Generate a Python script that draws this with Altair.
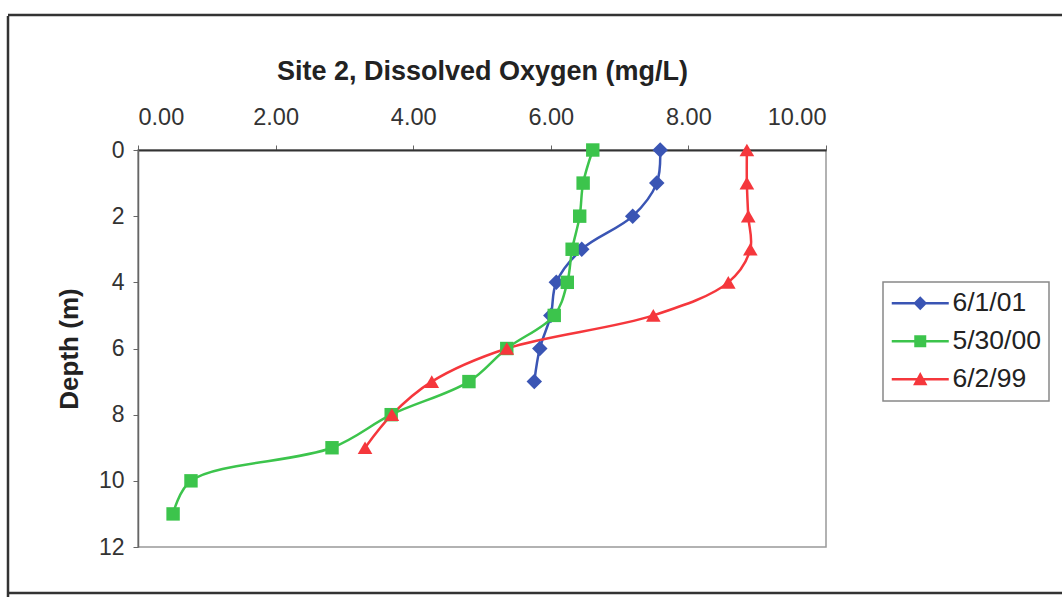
import altair as alt
import pandas as pd

# ---- data ----
series_names = ["6/1/01", "5/30/00", "6/2/99"]
colors = ["#3A55B4", "#3CC44C", "#F5373C"]

depth_601 = [0, 1, 2, 3, 4, 5, 6, 7]
do_601 = [7.59, 7.54, 7.19, 6.45, 6.08, 6.00, 5.84, 5.76]

depth_530 = [0, 1, 2, 3, 4, 5, 6, 7, 8, 9, 10, 11]
do_530 = [6.61, 6.47, 6.42, 6.31, 6.24, 6.05, 5.36, 4.81, 3.68, 2.82, 0.77, 0.51]

depth_602 = [0, 1, 2, 3, 4, 5, 6, 7, 8, 9]
do_602 = [8.85, 8.85, 8.87, 8.90, 8.58, 7.49, 5.36, 4.27, 3.69, 3.30]

x_ticks = [0, 2, 4, 6, 8, 10]
y_ticks = [0, 2, 4, 6, 8, 10, 12]

rows = []
for name, ds, vs in [(series_names[0], depth_601, do_601),
                     (series_names[1], depth_530, do_530),
                     (series_names[2], depth_602, do_602)]:
    for d, v in zip(ds, vs):
        rows.append({"series": name, "depth": d, "do": v})
df = pd.DataFrame(rows)

FONT = "Liberation Sans"

x_enc = alt.X(
    "do:Q",
    scale=alt.Scale(domain=[0, 10], nice=False, zero=False),
    axis=alt.Axis(orient="top", values=x_ticks, format=".2f",
                  title="Site 2, Dissolved Oxygen (mg/L)", titleFont=FONT,
                  titleFontSize=27, titleFontWeight="bold", titleColor="#222",
                  titlePadding=20,
                  grid=False, domainColor="#333", domainWidth=1.8,
                  tickColor="#666", tickSize=5, labelPadding=16,
                  labelFont=FONT, labelFontSize=23.5, labelColor="#333"),
)
y_enc = alt.Y(
    "depth:Q",
    scale=alt.Scale(domain=[0, 12], reverse=True, nice=False, zero=False),
    axis=alt.Axis(values=y_ticks, format="d", title="Depth (m)", grid=False,
                  domainColor="#666", domainWidth=1.5, tickColor="#666",
                  tickSize=5, labelPadding=9, labelFont=FONT,
                  labelFontSize=23, labelColor="#333", titleFont=FONT,
                  titleFontSize=26, titleFontWeight="bold", titleColor="#222",
                  titlePadding=16),
)
color_scale = alt.Scale(domain=series_names, range=colors)

# legend symbols: marker plus line segment (custom paths)
line_seg = "M-4.75,-0.2H4.75V0.2H-4.75Z"
legend_paths = [
    line_seg + "M0,-1.15L1.15,0L0,1.15L-1.15,0Z",
    line_seg + "M-1,-1H1V1H-1Z",
    line_seg + "M0,-1.2L1.2,1L-1.2,1Z",
]
legend_layer = alt.Chart(df).mark_point(filled=True, opacity=0).encode(
    x=x_enc, y=y_enc,
    color=alt.Color("series:N", scale=color_scale, legend=alt.Legend(title=None)),
    shape=alt.Shape("series:N", scale=alt.Scale(domain=series_names, range=legend_paths),
                    legend=alt.Legend(title=None)),
)

lines = alt.Chart(df).mark_line(interpolate="catmull-rom", strokeWidth=2.5).encode(
    x=x_enc, y=y_enc,
    color=alt.Color("series:N", scale=color_scale, legend=None),
    order=alt.Order("depth:Q"),
    detail="series:N",
)

shapes = ["diamond", "square", "triangle-up"]
sizes = [240, 180, 215]
point_layers = []
for name, shp, sz in zip(series_names, shapes, sizes):
    point_layers.append(
        alt.Chart(df).transform_filter(alt.datum.series == name)
        .mark_point(shape=shp, filled=True, size=sz, opacity=1)
        .encode(x=x_enc, y=y_enc,
                color=alt.Color("series:N", scale=color_scale, legend=None))
    )

frame_df = pd.DataFrame({"k": [0]})
frame_left = alt.Chart(frame_df).mark_rule(color="#333", strokeWidth=2.5).encode(
    x=alt.value(-130), y=alt.value(-134), y2=alt.value(460))
frame_top = alt.Chart(frame_df).mark_rule(color="#333", strokeWidth=2.5).encode(
    x=alt.value(-130), x2=alt.value(930), y=alt.value(-135))
frame_bottom = alt.Chart(frame_df).mark_rule(color="#333", strokeWidth=2.5).encode(
    x=alt.value(-130), x2=alt.value(930), y=alt.value(443))

chart = alt.layer(
    legend_layer, lines, *point_layers, frame_left, frame_top, frame_bottom
).properties(
    width=688, height=397,
    autosize=alt.AutoSizeParams(type="none"),
    padding={"left": 138, "top": 150, "right": 236, "bottom": 50},
    background="white",
).configure_view(
    stroke="#999", strokeWidth=1.5
).configure_legend(
    orient="none", legendX=745, legendY=132, padding=8,
    strokeColor="#888", strokeWidth=1.5, fillColor="white",
    labelFont=FONT, labelFontSize=26.5, labelColor="#222",
    symbolSize=144, symbolStrokeWidth=0, symbolOffset=16, labelOffset=19,
    rowPadding=11, symbolOpacity=1,
)

chart.save("out.html", embed_options={"renderer": "svg", "actions": False})
